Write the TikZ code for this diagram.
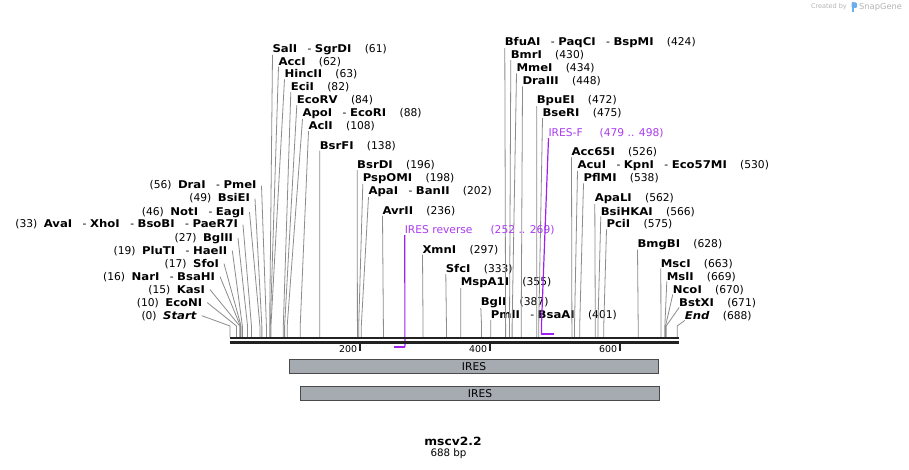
\documentclass[tikz,border=0pt]{standalone}
\usepackage{fontspec}
\setmainfont{DejaVu Sans}[BoldFeatures={FakeStretch=1.09}, BoldItalicFeatures={FakeStretch=1.09}]
\definecolor{cutgray}{HTML}{8C8C8C}
\definecolor{primer}{RGB}{160,32,240}
\definecolor{primertxt}{RGB}{170,60,240}
\definecolor{featfill}{HTML}{A6ABB2}
\definecolor{featdraw}{HTML}{4A4A4A}
\definecolor{seqcol}{HTML}{222222}
\definecolor{credgray}{HTML}{B4B4B4}
\definecolor{logoblue}{HTML}{6AAEEA}
\newcommand{\nsep}{\hspace{10.5pt}-\hspace{3.5pt}}
\newcommand{\ngap}{\hspace{13.3pt}}
\newcommand{\lgap}{\hspace{6.5pt}}
\newcommand{\bn}[1]{\textbf{#1}}
\newcommand{\toplab}[5]{%
  \node[toplbl] (#1) at (#2,#3) {#4};
  \coordinate (#1k) at ({230+0.65*#5},326);
  \coordinate (#1s) at ({230+0.65*#5},337);
  \draw[cut] (#1.south west) -- (#1k) -- (#1s);
}
\newcommand{\leftlab}[5]{%
  \node[leftlbl] (#1) at (#2,#3) {#4};
  \coordinate (#1k) at ({230+0.65*#5},326);
  \coordinate (#1s) at ({230+0.65*#5},337);
  \draw[cut] ([xshift=5pt]#1.east) -- (#1k) -- (#1s);
}
\tikzset{
  lbl/.style={inner sep=0pt, outer sep=0pt, font=\fontsize{10.7}{12}\selectfont},
  toplbl/.style={lbl, anchor=base west},
  leftlbl/.style={lbl, anchor=base east},
  primerlbl/.style={lbl, anchor=base west, text=primertxt},
  cut/.style={draw=cutgray, line width=0.8pt},
  primerline/.style={draw=primer, line width=1.2pt},
  primerbar/.style={draw=primer, line width=2pt},
  seqline/.style={draw=seqcol, line width=2.6pt},
  tickmark/.style={draw=seqcol, line width=1.6pt},
  ticklbl/.style={inner sep=0pt, anchor=base east, font=\fontsize{9.4}{11}\selectfont},
  feat/.style={draw=featdraw, fill=featfill, line width=1pt, inner sep=0pt,
    font=\fontsize{10.7}{12}\selectfont},
}
\begin{document}
\begin{tikzpicture}[x=1pt, y=-1pt]
\fill[white] (0,0) rectangle (909,470);
\useasboundingbox (0,0) rectangle (909,470);

% top labels, left cluster
\toplab{salI}{272.5}{52.5}{\bn{SalI}\nsep\bn{SgrDI}\ngap(61)}{61}
\toplab{accI}{278.5}{65.3}{\bn{AccI}\ngap(62)}{62}
\toplab{hincII}{284.5}{78}{\bn{HincII}\ngap(63)}{63}
\toplab{eciI}{290.8}{90.8}{\bn{EciI}\ngap(82)}{82}
\toplab{ecoRV}{296.8}{103.7}{\bn{EcoRV}\ngap(84)}{84}
\toplab{apoI}{302.5}{116.7}{\bn{ApoI}\nsep\bn{EcoRI}\ngap(88)}{88}
\toplab{aclI}{308.5}{129.7}{\bn{AclI}\ngap(108)}{108}
\toplab{bsrFI}{319.8}{149.3}{\bn{BsrFI}\ngap(138)}{138}
\toplab{bsrDI}{357.2}{168.7}{\bn{BsrDI}\ngap(196)}{196}
\toplab{pspOMI}{362.8}{181.7}{\bn{PspOMI}\ngap(198)}{198}
\toplab{apaI}{368.5}{194.8}{\bn{ApaI}\nsep\bn{BanII}\ngap(202)}{202}
\toplab{avrII}{382.5}{214.5}{\bn{AvrII}\ngap(236)}{236}
\toplab{xmnI}{422.5}{253.3}{\bn{XmnI}\ngap(297)}{297}
\toplab{sfcI}{445.8}{272.7}{\bn{SfcI}\ngap(333)}{333}
\toplab{mspAI}{460.8}{285.8}{\bn{MspA1I}\ngap(355)}{355}
\toplab{bglI}{480.8}{305.5}{\bn{BglI}\ngap(387)}{387}
\toplab{pmlI}{490.8}{318.7}{\bn{PmlI}\nsep\bn{BsaAI}\ngap(401)}{401}
% top labels, right cluster
\toplab{bfuAI}{504.8}{46}{\bn{BfuAI}\nsep\bn{PaqCI}\nsep\bn{BspMI}\ngap(424)}{424}
\toplab{bmrI}{510.8}{58.8}{\bn{BmrI}\ngap(430)}{430}
\toplab{mmeI}{516.5}{72}{\bn{MmeI}\ngap(434)}{434}
\toplab{draIII}{522.5}{85}{\bn{DraIII}\ngap(448)}{448}
\toplab{bpuEI}{536.8}{104}{\bn{BpuEI}\ngap(472)}{472}
\toplab{bseRI}{542.5}{116.8}{\bn{BseRI}\ngap(475)}{475}
\toplab{accsix}{571.5}{156}{\bn{Acc65I}\ngap(526)}{526}
\toplab{acuI}{577.5}{169}{\bn{AcuI}\nsep\bn{KpnI}\nsep\bn{Eco57MI}\ngap(530)}{530}
\toplab{pflMI}{583.5}{182}{\bn{PflMI}\ngap(538)}{538}
\toplab{apaLI}{594.8}{202}{\bn{ApaLI}\ngap(562)}{562}
\toplab{bsiHKAI}{600.8}{215}{\bn{BsiHKAI}\ngap(566)}{566}
\toplab{pciI}{606.5}{228}{\bn{PciI}\ngap(575)}{575}
\toplab{bmgBI}{637.5}{247.3}{\bn{BmgBI}\ngap(628)}{628}
\toplab{mscI}{660.8}{267}{\bn{MscI}\ngap(663)}{663}
\toplab{mslI}{666.8}{280}{\bn{MslI}\ngap(669)}{669}
\toplab{ncoI}{672.8}{293}{\bn{NcoI}\ngap(670)}{670}
\toplab{bstXI}{679.2}{306}{\bn{BstXI}\ngap(671)}{671}
\toplab{endlab}{684.8}{319}{\textbf{\textit{End}}\ngap(688)}{688}

% left labels
\leftlab{draI}{256.5}{189}{(56)\lgap\bn{DraI}\nsep\bn{PmeI}}{56}
\leftlab{bsiEI}{250}{202}{(49)\lgap\bn{BsiEI}}{49}
\leftlab{notI}{244.5}{215}{(46)\lgap\bn{NotI}\nsep\bn{EagI}}{46}
\leftlab{avaI}{238}{228}{(33)\lgap\bn{AvaI}\nsep\bn{XhoI}\nsep\bn{BsoBI}\nsep\bn{PaeR7I}}{33}
\leftlab{bglII}{233}{241}{(27)\lgap\bn{BglII}}{27}
\leftlab{pluTI}{227.3}{254}{(19)\lgap\bn{PluTI}\nsep\bn{HaeII}}{19}
\leftlab{sfoI}{219}{267}{(17)\lgap\bn{SfoI}}{17}
\leftlab{narI}{215}{280}{(16)\lgap\bn{NarI}\nsep\bn{BsaHI}}{16}
\leftlab{kasI}{205}{293}{(15)\lgap\bn{KasI}}{15}
\leftlab{ecoNI}{202.3}{306}{(10)\lgap\bn{EcoNI}}{10}
\leftlab{startlab}{196.7}{319}{(0)\lgap\textbf{\textit{Start}}}{0}

% primers
\node[primerlbl] (iresrev) at (404.8,233.5) {IRES reverse\hspace{18pt}(252 .. 269)};
\coordinate (revA) at (393.8,346.6);
\coordinate (revB) at (404.9,346.6);
\draw[primerline] (iresrev.south west) -- (revB);
\draw[primerbar] (revA) -- (revB);

\node[primerlbl] (iresf) at (548.5,136.7) {IRES-F\hspace{17pt}(479 .. 498)};
\coordinate (fwdK) at (541.4,327);
\coordinate (fwdA) at (541.4,333.5);
\coordinate (fwdB) at (553.7,333.5);
\draw[primerline] (iresf.south west) -- (fwdK) -- (fwdA);
\draw[primerbar] (fwdA) -- (fwdB);

% sequence line
\draw[seqline] (230,338) -- (679,338);
\draw[seqline] (230,342.4) -- (679,342.4);

% ticks
\draw[tickmark] (360,343) -- (360,350.5);
\draw[tickmark] (490,343) -- (490,350.5);
\draw[tickmark] (620,343) -- (620,350.5);
\node[ticklbl] (t200) at (357.3,352.3) {200};
\node[ticklbl] (t400) at (487.3,352.3) {400};
\node[ticklbl] (t600) at (617.3,352.3) {600};

% features
\node[feat, minimum width=369.4pt, minimum height=14pt] (ires1) at (474,366.3) {IRES};
\node[feat, minimum width=359.4pt, minimum height=14pt] (ires2) at (480,393.3) {IRES};

% title
\node[inner sep=0pt, anchor=base, font=\bfseries\fontsize{11.3}{13}\selectfont] (title) at (453,445.7) {mscv2.2};
\node[inner sep=0pt, anchor=base, font=\fontsize{10.3}{12}\selectfont] (bplen) at (448.5,456.7) {688 bp};

% credit
\node[inner sep=0pt, anchor=east, text=credgray, font=\fontsize{6.5}{8}\selectfont] (cred) at (847,7) {Created by};
\fill[logoblue, rounded corners=1.2pt] (851.5,2.5) rectangle (857,8);
\fill[logoblue] (851.5,2.5) rectangle (854.3,12);
\node[inner sep=0pt, anchor=west, text=credgray, font=\fontsize{8.3}{10}\selectfont] (sgname) at (859,7) {SnapGene};
\end{tikzpicture}
\end{document}
